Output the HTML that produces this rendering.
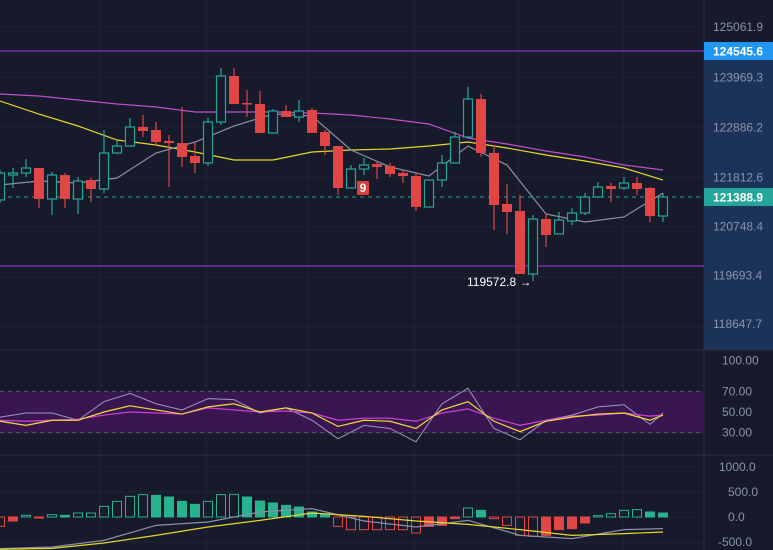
<!DOCTYPE html>
<html><head><meta charset="utf-8">
<style>
html,body{margin:0;padding:0;background:#161a2a;}
svg{display:block;font-family:"Liberation Sans",sans-serif;}
</style></head>
<body>
<svg id="chart" width="773" height="550" viewBox="0 0 773 550" xmlns="http://www.w3.org/2000/svg"></svg>
<script>
// ---- main price data (per candle) ----
const opens  = [121324,121864,121908,122016,121346,121864,121346,121756,121562,122340,122491,122902,122837,122600,122556,122275,122124,123010,124005,123421,123400,122773,123248,123118,123270,122794,122491,121584,121994,122102,122059,121908,121843,121173,121756,122124,122686,123508,122340,121238,121086,119724,120913,120589,120870,121043,121389,121627,121584,121692,121584,120978];
const highs  = [121973,122016,122210,122016,121929,121908,121821,121800,122837,122600,123097,123162,123010,122729,123335,122578,123097,124178,124178,123702,123681,123291,123378,123486,123313,122837,122491,122081,122232,122167,122124,121973,121908,121756,122297,122794,123770,123616,122513,121670,121432,121000,121043,121065,121151,121475,121713,121692,121821,121821,121605,121475];
const lows   = [121260,121584,121821,121151,121000,121151,121021,121281,121475,122318,122470,122686,122513,121605,122038,121908,122059,122946,123400,123118,122773,122773,123118,123010,122773,122297,121432,121584,121864,121778,121821,121692,121086,121173,121605,122124,122686,122254,120675,120589,119724,119573,120308,120589,120783,121000,121367,121281,121540,121432,120848,120848];
const closes = [121908,121908,122016,121346,121864,121346,121735,121562,122340,122491,122902,122816,122578,122556,122254,122124,123010,124005,123400,123400,122773,123248,123118,123248,122773,122491,121584,121994,122081,122038,121886,121843,121173,121756,122124,122686,123508,122340,121216,121065,119724,120913,120567,120891,121043,121389,121605,121562,121692,121562,120978,121389];
// moving averages sampled every 3 candles
const maIndex   = [0,3,6,9,12,15,18,21,24,27,30,33,36,39,42,45,48,51];
const maSlow    = [123616,123573,123486,123400,123335,123227,123227,123227,123205,123162,123075,122967,122664,122535,122383,122254,122081,121973];
const maMid     = [123464,123183,122924,122621,122513,122362,122189,122189,122362,122405,122427,122491,122578,122448,122297,122167,122016,121756];
const maFast    = [121648,121735,121692,121800,122340,122578,122924,123183,123140,122405,122038,121843,122491,122081,121021,120848,120957,121475];
const priceTicks = [125061.9,123969.3,122886.2,121812.6,120748.4,119693.4,118647.7];
const levelHigh = 124545.6, levelLow = 119897, lastPrice = 121388.9, lowMark = 119572.8;
// RSI sampled every 2 candles
const rsiIndex  = [0,2,4,6,8,10,12,14,16,18,20,22,24,26,28,30,32,34,36,38,40,42,44,46,48,50,51];
const rsiLine   = [45,49,49,42,60,68,58,52,63,62,49,54,42,24,37,34,21,58,73,34,23,42,47,55,57,38,49];
const rsiSignal = [41,37,42,42,50,56,52,48,55,58,50,54,49,36,42,41,34,52,60,41,31,41,45,48,49,42,47];
const rsiMa     = [42,41,42,43,47,50,49,48,54,52,50,51,49,42,44,44,41,49,53,44,37,42,46,47,49,46,47];
const rsiTicks  = [100,70,50,30];
// MACD
const macdHist  = [-187,-80,33,-13,47,33,80,80,213,313,413,447,433,400,313,253,313,447,453,400,320,280,233,200,100,47,-187,-253,-253,-253,-253,-253,-320,-187,-167,-33,180,133,-33,-167,-367,-387,-367,-253,-233,-120,27,67,133,147,100,80];
const macdIndex = [0,4,8,12,16,20,24,28,32,36,40,44,48,51];
const macdLine  = [-633,-600,-467,-167,-100,100,167,-80,-200,-67,-367,-433,-253,-233];
const macdSig   = [-647,-627,-520,-367,-200,-67,80,13,-80,-147,-253,-367,-333,-300];
const macdTicks = [1000,500,0,-500];

const svg = document.getElementById('chart');
const NS = 'http://www.w3.org/2000/svg';
function mk(tag, attrs, parent){const e=document.createElementNS(NS,tag);for(const k in attrs)e.setAttribute(k,attrs[k]);(parent||svg).appendChild(e);return e;}
const X = i => i*13;
const Y = p => 197 + (lastPrice - p)/21.62;
const YR = v => 412 - (v-50)*1.03;
const YM = v => 517 - v/20;
const UP='#26a69a', DN='#e04646';

let r=mk('rect',{x:0,y:0,width:773,height:550,fill:'#161a2a'});


r=mk('rect',{x:704,y:58,width:69,height:292,fill:'#1b3358'});


[27,77,127,177,227,277,327,392,433,467,492,517,542].forEach(y=>{const l=mk('line',{x1:0,x2:704,y1:y,y2:y,stroke:'#1f2436','stroke-width':1});});
[101,206,309,414,518,623].forEach(x=>{const l=mk('line',{x1:x,x2:x,y1:0,y2:550,stroke:'#1f2436','stroke-width':1});});
[350,455].forEach(y=>{const l=mk('line',{x1:0,x2:773,y1:y,y2:y,stroke:'#2a2f42','stroke-width':1});});
let l=mk('line',{x1:704,x2:704,y1:0,y2:550,stroke:'#2a2f42'});



l=mk('line',{x1:0,x2:704,y1:Y(levelHigh),y2:Y(levelHigh),stroke:'#8e2fd6','stroke-width':1.2});


l=mk('line',{x1:0,x2:704,y1:Y(levelLow),y2:Y(levelLow),stroke:'#8e2fd6','stroke-width':1.2});


l=mk('line',{x1:0,x2:704,y1:Y(lastPrice),y2:Y(lastPrice),stroke:'#26a69a','stroke-width':1,'stroke-dasharray':'4 4'});



function poly(idx, vals, fy, color, name, w){
  const pts = idx.map((i,k)=>X(i)+','+fy(vals[k])).join(' ');
  const p = mk('polyline',{points:pts,fill:'none',stroke:color,'stroke-width':w||1.2});
  
  
}
poly(maIndex,maSlow,Y,'#c04fc9','ma-slow');
poly(maIndex,maMid,Y,'#e6d72a','ma-mid');
poly(maIndex,maFast,Y,'#8c90a8','ma-fast');

for(let i=0;i<opens.length;i++){
  const up = closes[i]>=opens[i];
  const c = up?UP:DN;
  const g = mk('g',{});
  
  
  const top = Y(Math.max(opens[i],closes[i])), bot = Y(Math.min(opens[i],closes[i]));
  const w1 = mk('line',{x1:X(i),x2:X(i),y1:Y(highs[i]),y2:top,stroke:c,'stroke-width':1.2},g);
  
  
  const w2 = mk('line',{x1:X(i),x2:X(i),y1:bot,y2:Y(lows[i]),stroke:c,'stroke-width':1.2},g);
  
  
  const b = up ? mk('rect',{x:X(i)-4.5,y:top,width:9,height:Math.max(1,bot-top),fill:'#161a2a',stroke:c,'stroke-width':1.2},g)
               : mk('rect',{x:X(i)-5,y:top,width:10,height:Math.max(1.5,bot-top),fill:c},g);
  
  
}
r=mk('rect',{x:357,y:181,width:12,height:14,rx:1,fill:'#d8403f'});


let t=mk('text',{x:363,y:192,fill:'#fff','font-size':12,'font-weight':'bold','text-anchor':'middle'});t.textContent='9';


t=mk('text',{x:467,y:286,fill:'#ffffff','font-size':12});t.textContent='119572.8 →';



priceTicks.forEach(p=>{const tt=mk('text',{x:713,y:Y(p)+4,fill:'#8a93aa','font-size':12});tt.textContent=p.toFixed(1);});
r=mk('rect',{x:704,y:Y(levelHigh)-9,width:69,height:18,fill:'#2196f3'});


t=mk('text',{x:713,y:Y(levelHigh)+4.5,fill:'#fff','font-size':12,'font-weight':'bold'});t.textContent=levelHigh.toFixed(1);


r=mk('rect',{x:704,y:Y(lastPrice)-9,width:69,height:18,fill:'#26a69a'});


t=mk('text',{x:713,y:Y(lastPrice)+4.5,fill:'#fff','font-size':12,'font-weight':'bold'});t.textContent=lastPrice.toFixed(1);



r=mk('rect',{x:0,y:YR(70),width:704,height:YR(30)-YR(70),fill:'#3a1650'});


[70,30].forEach(v=>{const d=mk('line',{x1:0,x2:704,y1:YR(v),y2:YR(v),stroke:'#555a70','stroke-dasharray':'4 4'});});
poly(rsiIndex,rsiLine,YR,'#9a98c0','rsi-line',1);
poly(rsiIndex,rsiMa,YR,'#d040d8','rsi-ma-line',1.2);
poly(rsiIndex,rsiSignal,YR,'#f0dc3a','rsi-signal-line',1.2);
rsiTicks.forEach(v=>{const tt=mk('text',{x:722,y:YR(v)+4,fill:'#8a93aa','font-size':12});tt.textContent=v.toFixed(2);});

for(let i=0;i<macdHist.length;i++){
  const v=macdHist[i], prev=i>0?macdHist[i-1]:v;
  const pos=v>=0, c=pos?'#26b38e':'#e04646';
  const filled = pos ? v<prev : v>prev;
  const y0=YM(0), y1=YM(v);
  const b=mk('rect',{x:X(i)-4.5,y:Math.min(y0,y1),width:9,height:Math.max(1,Math.abs(y1-y0)),fill:filled?c:'none',stroke:c,'stroke-width':1});
  
  
}
poly(macdIndex,macdLine,YM,'#8c90a8','macd-line',1.2);
poly(macdIndex,macdSig,YM,'#e6d72a','macd-signal-line',1.2);
macdTicks.forEach(v=>{const tt=mk('text',{x:v<0?718:(v>=1000?719:728),y:YM(v)+4,fill:'#8a93aa','font-size':12});tt.textContent=v.toFixed(1);});
</script>
</body></html>
